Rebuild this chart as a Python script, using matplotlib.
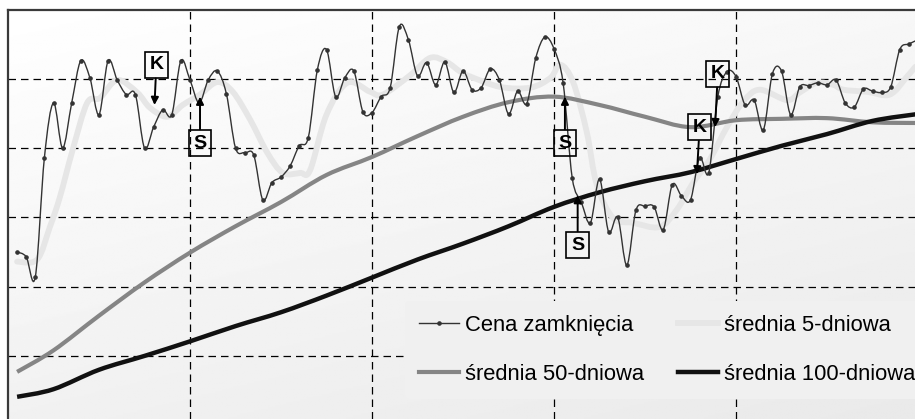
import numpy as np
import matplotlib.pyplot as plt
from matplotlib.path import Path
from matplotlib.patches import PathPatch
from matplotlib.lines import Line2D

plt.rcParams['font.family'] = ['Liberation Sans', 'DejaVu Sans']

# closing price, one value per session (day 1..100)
close_day = list(range(1, 101))
close = [12.50, 12.43, 12.14, 13.86, 14.65, 14.00, 14.65, 15.26, 15.01, 14.48,
         15.26, 14.98, 14.77, 14.77, 14.00, 14.30, 14.55, 14.48, 15.26, 14.98,
         14.65, 14.98, 15.11, 14.78, 14.00, 13.93, 13.90, 13.25, 13.50, 13.58,
         13.74, 14.03, 14.15, 15.13, 15.42, 14.74, 15.01, 15.11, 14.52, 14.51,
         14.74, 14.87, 15.75, 15.56, 15.04, 15.23, 14.91, 15.24, 14.80, 15.11,
         14.84, 14.87, 15.14, 14.98, 14.49, 14.82, 14.64, 15.30, 15.60, 15.43,
         14.94, 13.57, 13.22, 12.92, 13.55, 12.79, 13.00, 12.31, 13.10, 13.16,
         13.15, 12.82, 13.47, 13.31, 13.25, 13.86, 13.64, 14.74, 15.10, 15.03,
         14.62, 14.69, 14.26, 15.07, 15.11, 14.48, 14.88, 14.90, 14.94, 14.91,
         14.98, 14.65, 14.59, 14.85, 14.82, 14.80, 14.88, 15.42, 15.50, 15.56]

# 5-day average
ma5_day = [1, 3.2, 4.6, 5.7, 7.1, 8.7, 10.1, 12, 14.2, 15.6, 17.5, 19.2, 21.1,
           23, 24.7, 26.6, 28.5, 30.2, 32.1, 33.2, 35, 37.3, 39.8, 41.2, 44.2,
           46.4, 48.2, 49.7, 50.8, 54.1, 57.4, 59.6, 60.7, 62.1, 63.6, 64.7,
           66.5, 68.7, 71.6, 73.5, 75.3, 77.1, 79, 80.8, 82.6, 85.6, 87, 88.9,
           90.7, 91.8, 94.4, 96.9, 98.8, 99.7]
ma5 = [12.36, 12.39, 12.86, 13.29, 13.97, 14.65, 14.72, 14.98, 14.80, 14.58,
       14.45, 14.62, 14.77, 14.95, 14.81, 14.41, 13.93, 13.64, 13.64, 13.68,
       14.48, 14.94, 14.81, 14.77, 15.05, 15.30, 15.24, 15.10, 15.03, 14.88,
       14.87, 15.01, 15.20, 14.95, 14.23, 13.47, 12.99, 12.92, 12.86, 13.11,
       13.50, 13.83, 14.30, 14.67, 14.84, 14.69, 14.80, 14.94, 14.91, 14.84,
       14.81, 14.77, 15.03, 15.17]

# 50- and 100-day averages
ma_day = [1, 5, 10, 15, 20, 25, 30, 35, 40, 45, 50, 55, 60, 65, 70, 75, 80,
          85, 90, 95, 100]
ma50 = [10.77, 11.08, 11.58, 12.06, 12.49, 12.87, 13.22, 13.61, 13.87, 14.17,
        14.45, 14.66, 14.74, 14.62, 14.45, 14.30, 14.40, 14.42, 14.43, 14.37,
        14.36]
ma100 = [10.41, 10.52, 10.80, 11.00, 11.21, 11.43, 11.63, 11.87, 12.13, 12.39,
         12.62, 12.87, 13.15, 13.36, 13.52, 13.65, 13.84, 14.03, 14.20, 14.39,
         14.49]

# buy (K) / sell (S) signals: label, arrow tip, box centre
signals = [('K', (16.1, 14.62), (16.3, 15.20)),
           ('S', (21.1, 14.74), (21.1, 14.07)),
           ('S', (61.2, 14.74), (61.2, 14.07)),
           ('S', (62.6, 13.32), (62.6, 12.60)),
           ('K', (77.7, 14.30), (78.0, 15.07)),
           ('K', (75.7, 13.62), (76.0, 14.30))]


def smooth_path(xs, ys):
    # Excel-style smoothed line: cubic bezier through every point
    p = np.column_stack([xs, ys]).astype(float)
    verts = [p[0]]
    codes = [Path.MOVETO]
    n = len(p)
    for i in range(n - 1):
        p0 = p[i - 1] if i > 0 else p[i]
        p3 = p[i + 2] if i + 2 < n else p[i + 1]
        c1 = p[i] + (p[i + 1] - p0) / 6
        c2 = p[i + 1] - (p3 - p[i]) / 6
        verts += [c1, c2, p[i + 1]]
        codes += [Path.CURVE4] * 3
    return Path(verts, codes)


def smooth_line(ax, xs, ys, **kw):
    ax.add_patch(PathPatch(smooth_path(xs, ys), fill=False, **kw))


fig = plt.figure(figsize=(9.15, 4.19), dpi=100)
ax = fig.add_axes([8 / 915, 0, 1 - 8 / 915, 1 - 10 / 419])

# soft background gradient, white top-left to light grey bottom-right
grad = np.linspace(0, 1, 256)
gx, gy = np.meshgrid(grad, grad)
shade = 1.0 - 0.085 * (0.65 * gy + 0.35 * gx)
ax.imshow(shade, extent=[0, 1, 0, 1], transform=ax.transAxes, cmap='gray',
          vmin=0, vmax=1, aspect='auto', zorder=0, origin='upper')

ax.set_xlim(0, 99.67)
ax.set_ylim(10.09, 15.99)
ax.set_xticks([20, 40, 60, 80])
ax.set_yticks([11, 12, 13, 14, 15])
ax.grid(True, color='black', linestyle=(0, (6, 4)), linewidth=0.9, zorder=1)
ax.tick_params(length=0, labelbottom=False, labelleft=False)
for side in ['bottom', 'right']:
    ax.spines[side].set_visible(False)
for side in ['top', 'left']:
    ax.spines[side].set_color('#3a3a3a')
    ax.spines[side].set_linewidth(1.6)

smooth_line(ax, ma5_day, ma5, edgecolor='#e6e6e6', lw=4.2,
            capstyle='round', joinstyle='round', zorder=3)
smooth_line(ax, ma_day, ma50, edgecolor='#858585', lw=3.0, zorder=3)
smooth_line(ax, ma_day, ma100, edgecolor='#111111', lw=3.2, zorder=3)
smooth_line(ax, close_day, close, edgecolor='#333333', lw=1.0, zorder=4)
ax.plot(close_day, close, ls='none', marker='o', ms=2.3, color='#333333',
        zorder=4)

for lab, tip, box in signals:
    ax.annotate(lab, xy=tip, xytext=box, ha='center', va='center',
                fontsize=14, fontweight='bold', zorder=5,
                bbox=dict(boxstyle='square,pad=0.24', fc='none', ec='black',
                          lw=1.2),
                arrowprops=dict(arrowstyle='-|>', color='black', lw=1.4,
                                mutation_scale=11, shrinkA=0, shrinkB=0))

handles = [Line2D([], [], color='#333333', lw=1.0, marker='o', ms=2.3),
           Line2D([], [], color='#858585', lw=3.0),
           Line2D([], [], color='#e6e6e6', lw=4.2),
           Line2D([], [], color='#111111', lw=3.2)]
labels = ['Cena zamknięcia', 'średnia 50-dniowa', 'średnia 5-dniowa',
          'średnia 100-dniowa']
leg = ax.legend(handles, labels, ncol=2, loc='lower left',
                bbox_to_anchor=(0.4375, 0.049), fontsize=15.8, frameon=True,
                handlelength=1.82, handletextpad=0.27, columnspacing=1.55,
                labelspacing=1.27, borderaxespad=0, borderpad=0.65)
leg.get_frame().set_facecolor('#f0f0f0')
leg.get_frame().set_edgecolor('none')
leg.get_frame().set_alpha(1)
leg.set_zorder(6)

fig.savefig('out.png', dpi=100)
